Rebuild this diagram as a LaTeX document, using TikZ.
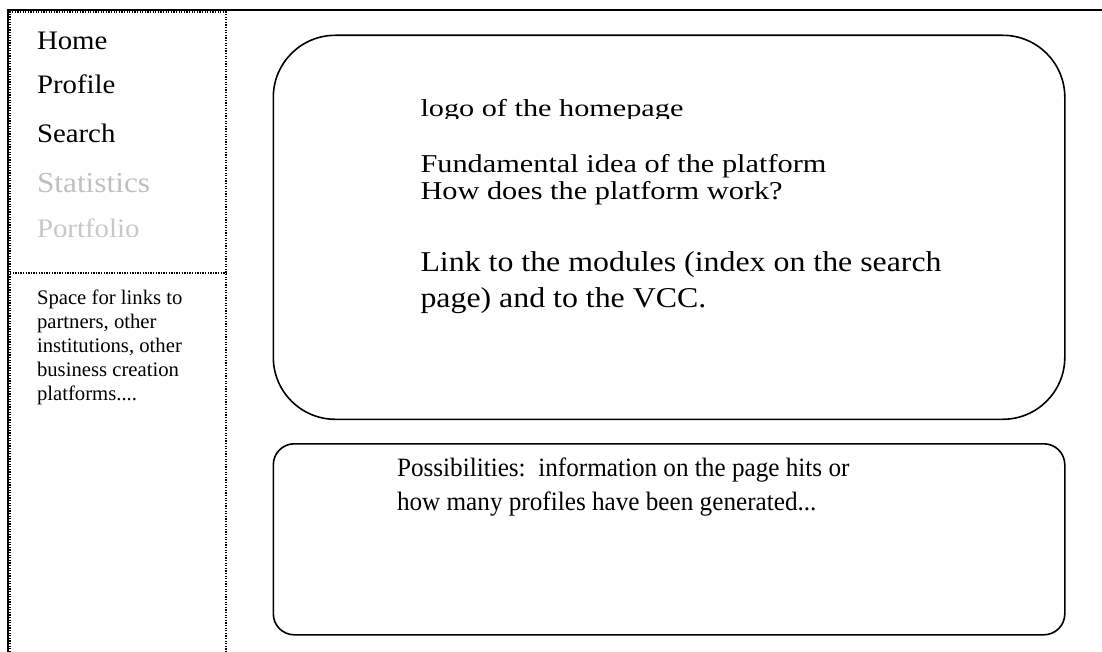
\documentclass[tikz,border=0pt]{standalone}
\usepackage{fontspec}
\setmainfont{Liberation Serif}
\newfontfamily\navfont[FakeStretch=1.08]{Liberation Serif}
\newfontfamily\logofont[FakeStretch=1.24]{Liberation Serif}
\newfontfamily\fundfont[FakeStretch=1.18]{Liberation Serif}
\newfontfamily\linkfont[FakeStretch=1.11]{Liberation Serif}
\newfontfamily\possfont[FakeStretch=0.95]{Liberation Serif}
\definecolor{lightgrey}{HTML}{C0C0C0}
\definecolor{lightergrey}{HTML}{C8C8C8}
\tikzset{
  frameline/.style={line width=2pt, black},
  dotline/.style={line width=1.3pt, dash pattern=on 1.3pt off 1.3pt, black},
  panel/.style={draw, line width=1.6pt, inner sep=0pt},
  txt/.style={anchor=base west, inner sep=0pt, outer sep=0pt},
  navtxt/.style={txt, font=\navfont\fontsize{26.7}{30}\selectfont},
  sidetxt/.style={txt, font=\fontsize{20.7}{24}\selectfont},
}
\begin{document}
\begin{tikzpicture}[x=1pt, y=-1pt]
\useasboundingbox (0,0) rectangle (1102,652);
% outer frame
\coordinate (ftr) at (1102,10);
\coordinate (ftl) at (8,10);
\coordinate (fbl) at (8,652);
\draw[frameline] (ftr) -- (ftl) -- (fbl);
% sidebar dotted frame
\coordinate (s1) at (10,652);
\coordinate (s2) at (10,12);
\coordinate (s3) at (226,12);
\coordinate (s4) at (226,652);
\coordinate (d1) at (10,273);
\coordinate (d2) at (226,273);
\draw[dotline] (s1) -- (s2) -- (s3) -- (s4);
\draw[dotline] (d1) -- (d2);
% nav items
\node[navtxt] (home) at (37,50) {Home};
\node[navtxt] (profile) at (37,94) {Profile};
\node[navtxt] (search) at (37,143) {Search};
\node[navtxt, text=lightgrey, font=\navfont\fontsize{29}{32}\selectfont] (stats) at (37,193) {Statistics};
\node[navtxt, text=lightergrey] (portfolio) at (37,238) {Portfolio};
% sidebar text
\node[sidetxt] (sp1) at (37,304) {Space for links to};
\node[sidetxt] (sp2) at (37,328) {partners, other};
\node[sidetxt] (sp3) at (37,352) {institutions, other};
\node[sidetxt] (sp4) at (37,376) {business creation};
\node[sidetxt] (sp5) at (37,400) {platforms....};
% main panel
\node[panel, rounded corners=62pt, minimum width=791.5pt, minimum height=384pt, anchor=north west] (main) at (272.5,34.5) {};
\begin{scope}
\clip (380,60) rectangle (800,119);
\node[txt, font=\logofont\fontsize{24.4}{28}\selectfont] (logo) at (420.5,117) {logo of the homepage};
\end{scope}
\node[txt, font=\fundfont\fontsize{25.7}{28}\selectfont] (fund) at (420.5,173) {Fundamental idea of the platform};
\node[txt, font=\fundfont\fontsize{25.7}{28}\selectfont] (how) at (420.5,200) {How does the platform work?};
\node[txt, font=\linkfont\fontsize{28.7}{32}\selectfont] (link1) at (420.5,272) {Link to the modules (index on the search};
\node[txt, font=\linkfont\fontsize{28.7}{32}\selectfont] (link2) at (420.5,307) {page) and to the VCC.};
% lower panel
\node[panel, rounded corners=21pt, minimum width=791.5pt, minimum height=191pt, anchor=north west] (lower) at (272.5,443) {};
\node[txt, font=\possfont\fontsize{26.5}{30}\selectfont] (poss1) at (397,476) {Possibilities:\ \ information on the page hits or};
\node[txt, font=\possfont\fontsize{26.5}{30}\selectfont] (poss2) at (397,510) {how many profiles have been generated...};
\end{tikzpicture}
\end{document}
